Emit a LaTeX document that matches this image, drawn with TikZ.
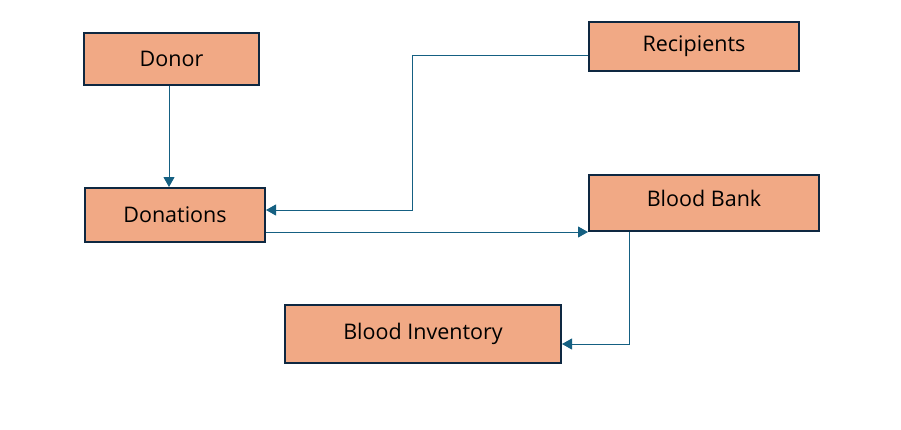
\documentclass[tikz,border=0pt]{standalone}
\usepackage{fontspec}
\setmainfont{Open Sans}
\usetikzlibrary{arrows.meta}
\definecolor{boxfill}{HTML}{F1A985}
\definecolor{boxline}{HTML}{0E2841}
\definecolor{conn}{HTML}{156082}
\tikzset{
  entity/.style={draw=boxline, line width=2pt, fill=boxfill, inner sep=0pt,
    font=\fontsize{21.5}{25}\selectfont, text=black},
  link/.style={draw=conn, line width=1pt, -{Triangle[length=10pt,width=11pt]}}
}
\begin{document}
\begin{tikzpicture}[x=1pt,y=-1pt]
\useasboundingbox (0,0) rectangle (901,429);
\node[entity, minimum width=175pt, minimum height=52pt] (donor) at (171.5,59) {Donor};
\node[entity, minimum width=180pt, minimum height=54pt] (don) at (175,215) {Donations};
\node[entity, minimum width=210pt, minimum height=49pt] (rec) at (694,46.5) {Recipients};
\node[entity, minimum width=230pt, minimum height=56pt, text depth=9pt] (bb) at (704,203) {Blood Bank};
\node[entity, minimum width=276pt, minimum height=58pt] (inv) at (423,334) {Blood Inventory};
\draw[link] ([xshift=-2.5pt]donor.south) -- ([xshift=-2.5pt]donor.south |- don.north);
\draw[link] ([yshift=-8.5pt]rec.west) -| (412,210) -- ([yshift=5pt]don.east);
\draw[link] (don.east |- bb.south west) -- (bb.south west);
\draw[link] ([xshift=-75pt]bb.south) |- ([yshift=-10pt]inv.east);
\end{tikzpicture}
\end{document}
